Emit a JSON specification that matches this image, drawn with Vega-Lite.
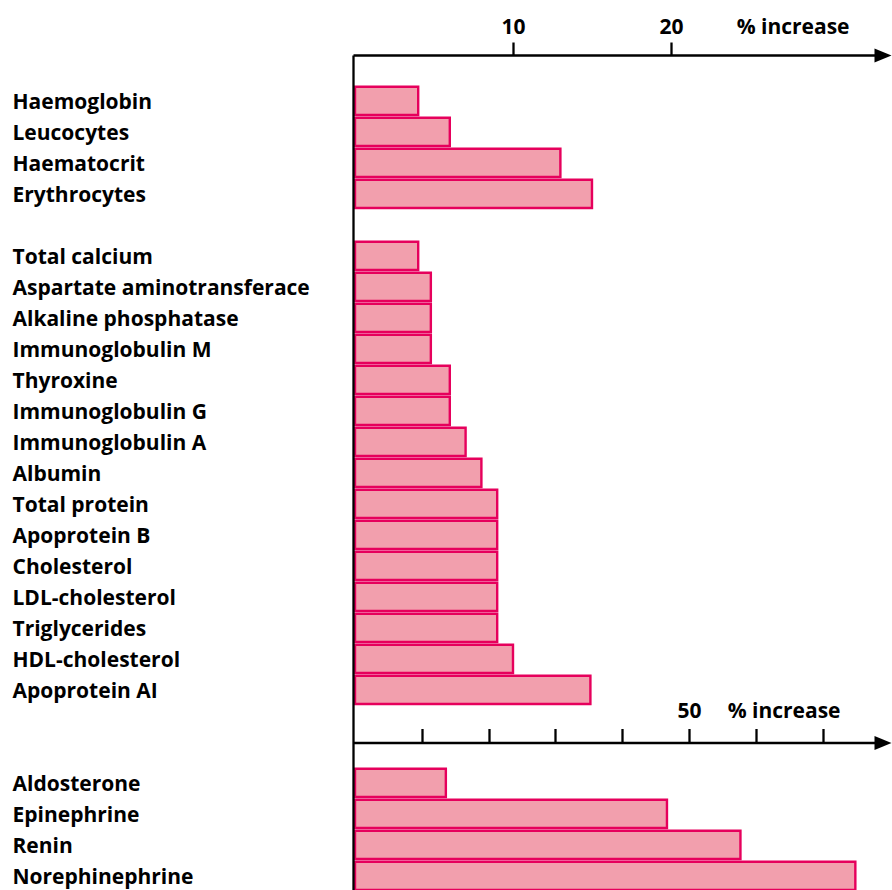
{
  "$schema": "https://vega.github.io/schema/vega-lite/v6.json",
  "padding": {"left": 12, "top": 0, "right": 0, "bottom": 0},
  "width": 530,
  "height": 835,
  "background": "white",
  "config": {
    "view": {"stroke": null},
    "font": "Open Sans"
  },
  "datasets": {
    "upper": [
      {"item": "Haemoglobin", "increase": 4.0},
      {"item": "Leucocytes", "increase": 6.0},
      {"item": "Haematocrit", "increase": 13.0},
      {"item": "Erythrocytes", "increase": 15.0},
      {"item": "Total calcium", "increase": 4.0},
      {"item": "Aspartate aminotransferace", "increase": 4.8},
      {"item": "Alkaline phosphatase", "increase": 4.8},
      {"item": "Immunoglobulin M", "increase": 4.8},
      {"item": "Thyroxine", "increase": 6.0},
      {"item": "Immunoglobulin G", "increase": 6.0},
      {"item": "Immunoglobulin A", "increase": 7.0},
      {"item": "Albumin", "increase": 8.0},
      {"item": "Total protein", "increase": 9.0},
      {"item": "Apoprotein B", "increase": 9.0},
      {"item": "Cholesterol", "increase": 9.0},
      {"item": "LDL-cholesterol", "increase": 9.0},
      {"item": "Triglycerides", "increase": 9.0},
      {"item": "HDL-cholesterol", "increase": 10.0},
      {"item": "Apoprotein AI", "increase": 14.9}
    ],
    "lower": [
      {"item": "Aldosterone", "increase": 13.6},
      {"item": "Epinephrine", "increase": 46.7},
      {"item": "Renin", "increase": 57.7},
      {"item": "Norephinephrine", "increase": 74.9}
    ]
  },
  "layer": [
    {
      "layer": [
        {
          "data": {"name": "upper"},
          "mark": {"type": "bar", "fill": "#f29fad", "stroke": "#e6005c", "strokeWidth": 2.4, "opacity": 1},
          "encoding": {
            "y": {
              "field": "item", "type": "nominal",
              "scale": {"domain": ["gap0", "Haemoglobin", "Leucocytes", "Haematocrit", "Erythrocytes", "gap1", "Total calcium", "Aspartate aminotransferace", "Alkaline phosphatase", "Immunoglobulin M", "Thyroxine", "Immunoglobulin G", "Immunoglobulin A", "Albumin", "Total protein", "Apoprotein B", "Cholesterol", "LDL-cholesterol", "Triglycerides", "HDL-cholesterol", "Apoprotein AI", "gap2", "gap3", "Aldosterone", "Epinephrine", "Renin", "Norephinephrine"], "paddingInner": 0.09, "paddingOuter": 0.0125, "align": 1},
              "axis": {
                "orient": "left", "title": null, "ticks": false, "tickSize": 0, "grid": false,
                "labelPadding": 341, "labelAlign": "left", "labelBaseline": "middle", "labelOffset": 2,
                "labelFont": "Open Sans", "labelFontSize": 21, "labelFontWeight": "bold", "labelColor": "black",
                "labelLimit": 500, "labelOverlap": false,
                "labelExpr": "indexof(datum.value, 'gap') == 0 ? '' : datum.value",
                "domainColor": "black", "domainWidth": 2.3, "zindex": 1
              }
            },
            "x": {
              "field": "increase", "type": "quantitative",
              "scale": {"domain": [-0.127, 33.42], "nice": false, "zero": false},
              "axis": {
                "orient": "top", "values": [10, 20], "format": "d", "grid": false,
                "tickSize": 13, "tickWidth": 2.3, "tickColor": "black",
                "domainColor": "black", "domainWidth": 2.3,
                "labelFont": "Open Sans", "labelFontSize": 21, "labelFontWeight": "bold", "labelColor": "black",
                "labelBaseline": "alphabetic", "labelPadding": 8.5, "labelAlign": "center", "labelFlush": false,
                "title": "% increase", "titleFont": "Open Sans", "titleFontSize": 21, "titleFontWeight": "bold", "titleColor": "black",
                "titleX": 496, "titleY": -21.5, "titleAlign": "right", "titleBaseline": "alphabetic", "titleAngle": 0,
                "minExtent": 55, "maxExtent": 55, "zindex": 1
              }
            }
          }
        },
        {
          "data": {"values": [{}]},
          "mark": {"type": "point", "shape": "M-1,-0.82L1,0L-1,0.82Z", "filled": true, "size": 289, "color": "black", "opacity": 1, "strokeWidth": 0},
          "encoding": {
            "x": {"datum": 33.42, "type": "quantitative", "scale": {"domain": [-0.127, 33.42], "nice": false, "zero": false}},
            "y": {"datum": "gap0", "type": "nominal", "bandPosition": -0.0103,
              "scale": {"domain": ["gap0", "Haemoglobin", "Leucocytes", "Haematocrit", "Erythrocytes", "gap1", "Total calcium", "Aspartate aminotransferace", "Alkaline phosphatase", "Immunoglobulin M", "Thyroxine", "Immunoglobulin G", "Immunoglobulin A", "Albumin", "Total protein", "Apoprotein B", "Cholesterol", "LDL-cholesterol", "Triglycerides", "HDL-cholesterol", "Apoprotein AI", "gap2", "gap3", "Aldosterone", "Epinephrine", "Renin", "Norephinephrine"], "paddingInner": 0.09, "paddingOuter": 0.0125, "align": 1}}
          }
        }
      ]
    },
    {
      "layer": [
        {
          "data": {"name": "lower"},
          "mark": {"type": "bar", "fill": "#f29fad", "stroke": "#e6005c", "strokeWidth": 2.4, "opacity": 1},
          "encoding": {
            "y": {
              "field": "item", "type": "nominal",
              "scale": {"domain": ["gap0", "Haemoglobin", "Leucocytes", "Haematocrit", "Erythrocytes", "gap1", "Total calcium", "Aspartate aminotransferace", "Alkaline phosphatase", "Immunoglobulin M", "Thyroxine", "Immunoglobulin G", "Immunoglobulin A", "Albumin", "Total protein", "Apoprotein B", "Cholesterol", "LDL-cholesterol", "Triglycerides", "HDL-cholesterol", "Apoprotein AI", "gap2", "gap3", "Aldosterone", "Epinephrine", "Renin", "Norephinephrine"], "paddingInner": 0.09, "paddingOuter": 0.0125, "align": 1}
            },
            "x": {
              "field": "increase", "type": "quantitative",
              "scale": {"domain": [-0.3, 79.04], "nice": false, "zero": false},
              "axis": {
                "orient": "top", "offset": -687.5, "values": [10, 20, 30, 40, 50, 60, 70], "grid": false,
                "labelExpr": "datum.value == 50 ? '50' : ''",
                "tickSize": 14, "tickWidth": 2.3, "tickColor": "black",
                "domainColor": "black", "domainWidth": 2.3,
                "labelFont": "Open Sans", "labelFontSize": 21, "labelFontWeight": "bold", "labelColor": "black",
                "labelBaseline": "alphabetic", "labelPadding": 11, "labelAlign": "center", "labelFlush": false,
                "title": "% increase", "titleFont": "Open Sans", "titleFontSize": 21, "titleFontWeight": "bold", "titleColor": "black",
                "titleX": 487, "titleY": -25, "titleAlign": "right", "titleBaseline": "alphabetic", "titleAngle": 0,
                "zindex": 1
              }
            }
          }
        },
        {
          "data": {"values": [{}]},
          "mark": {"type": "point", "shape": "M-1,-0.82L1,0L-1,0.82Z", "filled": true, "size": 289, "color": "black", "opacity": 1, "strokeWidth": 0},
          "encoding": {
            "x": {"datum": 79.04, "type": "quantitative", "scale": {"domain": [-0.3, 79.04], "nice": false, "zero": false}},
            "y": {"datum": "gap3", "type": "nominal", "bandPosition": 0.185,
              "scale": {"domain": ["gap0", "Haemoglobin", "Leucocytes", "Haematocrit", "Erythrocytes", "gap1", "Total calcium", "Aspartate aminotransferace", "Alkaline phosphatase", "Immunoglobulin M", "Thyroxine", "Immunoglobulin G", "Immunoglobulin A", "Albumin", "Total protein", "Apoprotein B", "Cholesterol", "LDL-cholesterol", "Triglycerides", "HDL-cholesterol", "Apoprotein AI", "gap2", "gap3", "Aldosterone", "Epinephrine", "Renin", "Norephinephrine"], "paddingInner": 0.09, "paddingOuter": 0.0125, "align": 1}}
          }
        }
      ]
    }
  ],
  "resolve": {"scale": {"x": "independent"}}
}
